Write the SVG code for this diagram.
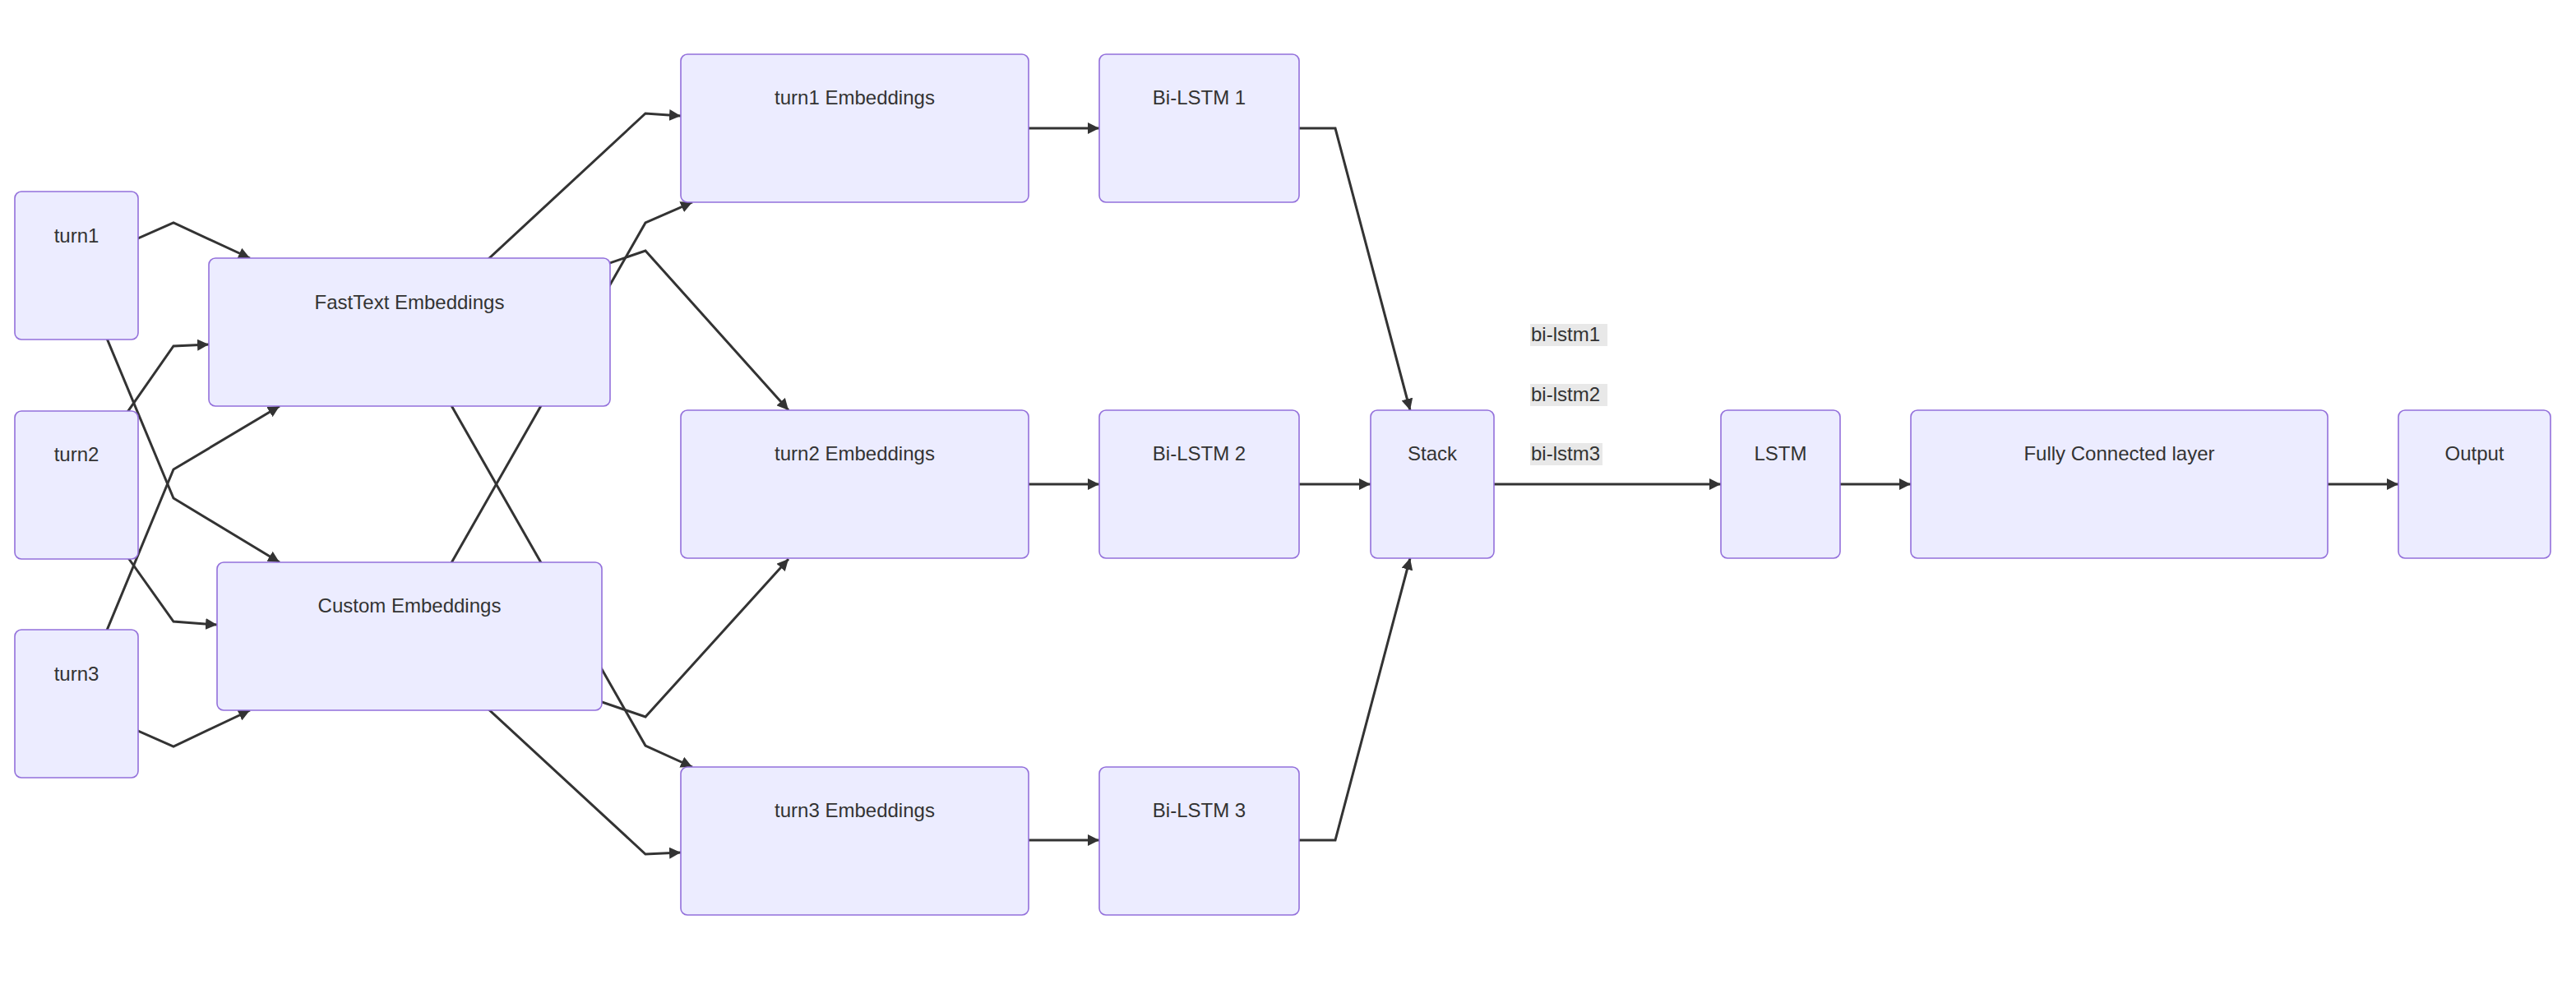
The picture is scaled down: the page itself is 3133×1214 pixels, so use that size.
<svg xmlns="http://www.w3.org/2000/svg" width="3133" height="1214" viewBox="0 0 3133 1214">
<style>
.node rect{fill:#ECECFF;stroke:#9370DB;stroke-width:1.6}
.node text,.lbl text{font-family:"Liberation Sans",Arial,sans-serif;font-size:24px;fill:#333}
.node text{text-anchor:middle}
.edges path{fill:none;stroke:#333;stroke-width:3}
.lbl rect{fill:#e8e8e8}
</style>
<defs>
<marker id="arr" viewBox="0 0 10 10" refX="10" refY="5" markerUnits="userSpaceOnUse" markerWidth="14" markerHeight="14" orient="auto">
<path d="M0,0 L10,5 L0,10 z" fill="#333"/>
</marker>
</defs>
<rect width="3133" height="1214" fill="#fff"/>
<g id="edges" class="edges" marker-end="url(#arr)">
<path d="M93,323 L211,271 L304,314" marker-end="url(#arr)"/>
<path d="M93,323 L211,606 L340,684" marker-end="url(#arr)"/>
<path d="M93,590 L211,421 L254,419" marker-end="url(#arr)"/>
<path d="M93,590 L211,756 L264,760" marker-end="url(#arr)"/>
<path d="M93,856 L211,571 L340,494" marker-end="url(#arr)"/>
<path d="M93,856 L211,908 L304,864" marker-end="url(#arr)"/>
<path d="M498,404 L785,138 L828,141" marker-end="url(#arr)"/>
<path d="M498,404 L785,305 L959,499" marker-end="url(#arr)"/>
<path d="M498,404 L785,907 L842,933" marker-end="url(#arr)"/>
<path d="M498,774 L785,271 L842,246" marker-end="url(#arr)"/>
<path d="M498,774 L785,872 L959,680" marker-end="url(#arr)"/>
<path d="M498,774 L785,1039 L828,1037" marker-end="url(#arr)"/>
<path d="M1251,156 L1337,156" marker-end="url(#arr)"/>
<path d="M1251,589 L1337,589" marker-end="url(#arr)"/>
<path d="M1251,1022 L1337,1022" marker-end="url(#arr)"/>
<path d="M1580,156 L1624,156 L1715,499" marker-end="url(#arr)"/>
<path d="M1580,589 L1667,589" marker-end="url(#arr)"/>
<path d="M1580,1022 L1624,1022 L1715,679" marker-end="url(#arr)"/>
<path d="M1817,589 L2093,589" marker-end="url(#arr)"/>
<path d="M2238,589 L2324,589" marker-end="url(#arr)"/>
<path d="M2831,589 L2917,589" marker-end="url(#arr)"/>
</g>
<g id="edge-labels" class="lbl">
<rect x="1861" y="394" width="94" height="27"/><text x="1862" y="415">bi-lstm1</text>
<rect x="1861" y="467" width="94" height="27"/><text x="1862" y="488">bi-lstm2</text>
<rect x="1861" y="539" width="88" height="27"/><text x="1862" y="560">bi-lstm3</text>
</g>
<g id="turn1" class="node"><rect x="18" y="233" width="150" height="180" rx="8"/><text x="93" y="295">turn1</text></g>
<g id="turn2" class="node"><rect x="18" y="500" width="150" height="180" rx="8"/><text x="93" y="561">turn2</text></g>
<g id="turn3" class="node"><rect x="18" y="766" width="150" height="180" rx="8"/><text x="93" y="828">turn3</text></g>
<g id="fasttext" class="node"><rect x="254" y="314" width="488" height="180" rx="8"/><text x="498" y="376">FastText Embeddings</text></g>
<g id="custom" class="node"><rect x="264" y="684" width="468" height="180" rx="8"/><text x="498" y="745">Custom Embeddings</text></g>
<g id="turn1emb" class="node"><rect x="828" y="66" width="423" height="180" rx="8"/><text x="1039.5" y="127">turn1 Embeddings</text></g>
<g id="turn2emb" class="node"><rect x="828" y="499" width="423" height="180" rx="8"/><text x="1039.5" y="560">turn2 Embeddings</text></g>
<g id="turn3emb" class="node"><rect x="828" y="933" width="423" height="180" rx="8"/><text x="1039.5" y="994">turn3 Embeddings</text></g>
<g id="bilstm1" class="node"><rect x="1337" y="66" width="243" height="180" rx="8"/><text x="1458.5" y="127">Bi-LSTM 1</text></g>
<g id="bilstm2" class="node"><rect x="1337" y="499" width="243" height="180" rx="8"/><text x="1458.5" y="560">Bi-LSTM 2</text></g>
<g id="bilstm3" class="node"><rect x="1337" y="933" width="243" height="180" rx="8"/><text x="1458.5" y="994">Bi-LSTM 3</text></g>
<g id="stack" class="node"><rect x="1667" y="499" width="150" height="180" rx="8"/><text x="1742" y="560">Stack</text></g>
<g id="lstm" class="node"><rect x="2093" y="499" width="145" height="180" rx="8"/><text x="2165.5" y="560">LSTM</text></g>
<g id="fc" class="node"><rect x="2324" y="499" width="507" height="180" rx="8"/><text x="2577.5" y="560">Fully Connected layer</text></g>
<g id="output" class="node"><rect x="2917" y="499" width="185" height="180" rx="8"/><text x="3009.5" y="560">Output</text></g>
</svg>
